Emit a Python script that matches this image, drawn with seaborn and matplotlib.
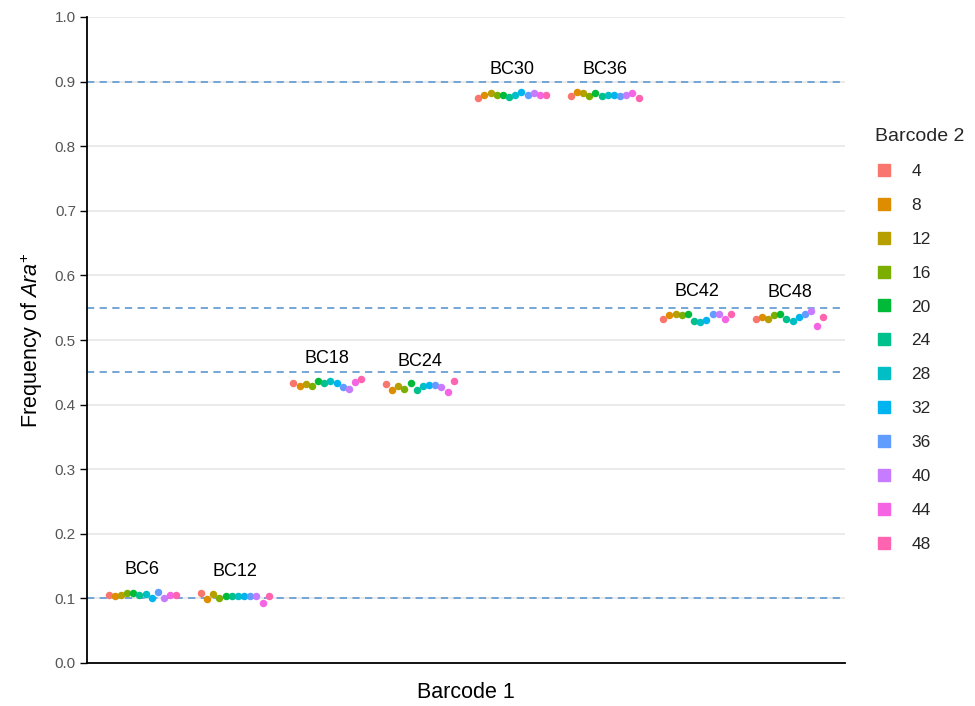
import numpy as np
import pandas as pd
import matplotlib
matplotlib.use('Agg')
import matplotlib.pyplot as plt
from matplotlib.lines import Line2D
import seaborn as sns

# frecuencias, una lista por Barcode 1 (orden de Barcode 2: 4..48)
barcode1 = ['BC6', 'BC12', 'BC18', 'BC24', 'BC30', 'BC36', 'BC42', 'BC48']
barcode2 = ['4', '8', '12', '16', '20', '24', '28', '32', '36', '40', '44', '48']
bc6 = [0.105, 0.103, 0.106, 0.109, 0.109, 0.105, 0.107, 0.100, 0.110, 0.100, 0.105, 0.105]
bc12 = [0.108, 0.099, 0.107, 0.100, 0.103, 0.103, 0.104, 0.103, 0.104, 0.104, 0.093, 0.103]
bc18 = [0.434, 0.429, 0.432, 0.429, 0.437, 0.433, 0.437, 0.433, 0.428, 0.424, 0.435, 0.439]
bc24 = [0.432, 0.422, 0.429, 0.424, 0.434, 0.423, 0.429, 0.430, 0.431, 0.427, 0.420, 0.437]
bc30 = [0.874, 0.880, 0.883, 0.880, 0.879, 0.876, 0.879, 0.884, 0.879, 0.883, 0.879, 0.879]
bc36 = [0.877, 0.884, 0.883, 0.877, 0.882, 0.878, 0.879, 0.879, 0.878, 0.879, 0.882, 0.874]
bc42 = [0.533, 0.539, 0.540, 0.538, 0.540, 0.529, 0.528, 0.531, 0.540, 0.541, 0.533, 0.540]
bc48 = [0.533, 0.536, 0.533, 0.538, 0.540, 0.533, 0.529, 0.535, 0.540, 0.545, 0.522, 0.535]
freqs = [bc6, bc12, bc18, bc24, bc30, bc36, bc42, bc48]
targets = [0.1, 0.45, 0.55, 0.9]

# paleta tipo ggplot (hue_pal, 12 niveles)
palette = ['#F8766D', '#DE8C00', '#B79F00', '#7CAE00', '#00BA38', '#00C08B',
           '#00BFC4', '#00B4F0', '#619CFF', '#C77CFF', '#F564E3', '#FF64B0']

df = pd.DataFrame({'Barcode 1': np.repeat(barcode1, len(barcode2)),
                   'Barcode 2': np.tile(barcode2, len(barcode1)),
                   'freq': np.concatenate(freqs)})

sns.set_theme(style='white')
plt.rcParams['font.family'] = ['Liberation Sans', 'DejaVu Sans']
plt.rcParams['mathtext.fontset'] = 'custom'
plt.rcParams['mathtext.rm'] = 'Liberation Sans'
plt.rcParams['mathtext.it'] = 'Liberation Sans:italic'

fig = plt.figure(figsize=(9.75, 7.06), dpi=100)
ax = fig.add_axes([87/975, 1-663/706, (845-87)/975, (663-17)/706])

ax.set_yticks(np.arange(0, 1.01, 0.1))
ax.yaxis.grid(True, color='#e6e6e6', lw=1.2, zorder=0)
ax.set_axisbelow(True)
for t in targets:
    ax.axhline(t, color='#6a9fd4', ls=(0, (4, 3)), lw=1.3, zorder=1)

sns.stripplot(data=df, x='Barcode 1', y='freq', hue='Barcode 2', order=barcode1,
              hue_order=barcode2, palette=palette, dodge=True, jitter=False,
              size=5.4, linewidth=0, ax=ax, legend=False, zorder=3)

# etiquetas encima de cada grupo
for i, name in enumerate(barcode1):
    ax.text(i, np.mean(freqs[i]) + 0.032, name, ha='center', va='baseline',
            fontsize=13, color='black')

ax.set_xlim(-0.6, len(barcode1) - 0.4)
ax.set_ylim(0, 1)
ax.set_yticklabels(['%.1f' % v for v in np.arange(0, 1.01, 0.1)])
ax.set_xticks([])
ax.tick_params(axis='y', length=5, width=1, color='black', labelcolor='#555555',
               labelsize=11, left=True, pad=3)
for s in ['top', 'right']:
    ax.spines[s].set_visible(False)
for s in ['left', 'bottom']:
    ax.spines[s].set_color('black')
    ax.spines[s].set_linewidth(1.3)

ax.set_xlabel('Barcode 1', fontsize=15.5, color='black', labelpad=14)
ax.set_ylabel(r'Frequency of $\mathit{Ara}^{+}$', fontsize=15.5, color='black', labelpad=7)

handles = [Line2D([], [], marker='s', ls='', color=c, markersize=9) for c in palette]
leg = fig.legend(handles, barcode2, title='Barcode 2', loc='upper left',
                 bbox_to_anchor=(875/975, 1-128/706), frameon=False, fontsize=12.5,
                 title_fontsize=14, labelspacing=1.08, handlelength=1.0,
                 handletextpad=1.1, borderpad=0, borderaxespad=0, alignment='left')

fig.savefig('out.png', dpi=100)
